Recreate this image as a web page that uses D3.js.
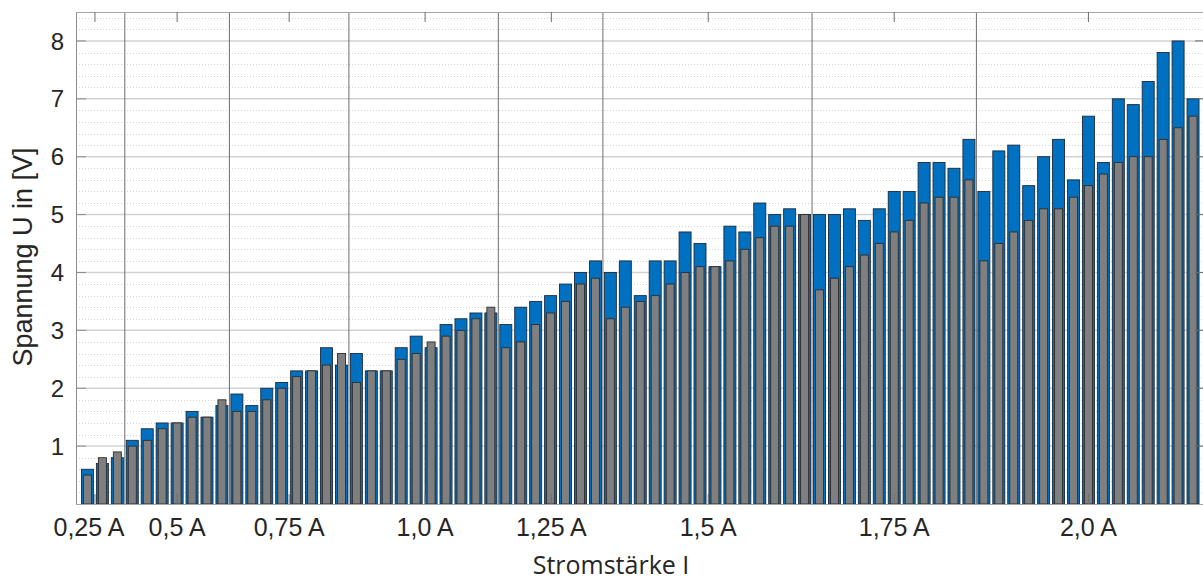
<!DOCTYPE html>
<html>
<head>
<meta charset="utf-8">
<script src="https://cdn.jsdelivr.net/npm/d3@7"></script>
<style>
  html, body { margin: 0; padding: 0; background: #fff; }
  svg { display: block; }
</style>
</head>
<body>
<svg id="chart" width="1203" height="581"></svg>
<script>
// ---- data ----
const blueValues = [0.6,0.7,0.8,1.1,1.3,1.4,1.4,1.6,1.5,1.7,
  1.9,1.7,2.0,2.1,2.3,2.3,2.7,2.4,2.6,2.3,
  2.3,2.7,2.9,2.7,3.1,3.2,3.3,3.3,3.1,3.4,
  3.5,3.6,3.8,4.0,4.2,4.0,4.2,3.6,4.2,4.2,
  4.7,4.5,4.1,4.8,4.7,5.2,5.0,5.1,5.0,5.0,
  5.0,5.1,4.9,5.1,5.4,5.4,5.9,5.9,5.8,6.3,
  5.4,6.1,6.2,5.5,6.0,6.3,5.6,6.7,5.9,7.0,
  6.9,7.3,7.8,8.0,7.0];
const grayValues = [0.5,0.8,0.9,1.0,1.1,1.3,1.4,1.5,1.5,1.8,
  1.6,1.6,1.8,2.0,2.2,2.3,2.4,2.6,2.1,2.3,
  2.3,2.5,2.6,2.8,2.9,3.0,3.2,3.4,2.7,2.8,
  3.1,3.3,3.5,3.8,3.9,3.2,3.4,3.5,3.6,3.8,
  4.0,4.1,4.1,4.2,4.4,4.6,4.8,4.8,5.0,3.7,
  3.9,4.1,4.3,4.5,4.7,4.9,5.2,5.3,5.3,5.6,
  4.2,4.5,4.7,4.9,5.1,5.1,5.3,5.5,5.7,5.9,
  6.0,6.0,6.3,6.5,6.7];
const categories = blueValues.map((d, i) => i);
// group separators: positioned before these bar indices
const separatorIndices = [3, 10, 18, 28, 35, 49, 60];
// x tick labels and their position in bar-slot units
const xTickLabels = ["0,25 A", "0,5 A", "0,75 A", "1,0 A", "1,25 A", "1,5 A", "1,75 A", "2,0 A"];
const xTickSlots = [1.0, 6.5, 14.0, 23.1, 31.55, 42.05, 54.5, 67.5];
const yTickValues = [1, 2, 3, 4, 5, 6, 7, 8];
const yMax = 8.5;

// ---- layout ----
const L = 76, R = 1204, T = 12, B = 504;
const svg = d3.select("#chart");

const x = d3.scaleBand().domain(categories).range([80, 1200.5]).padding(0);
const xs = d3.scaleLinear().domain([0, categories.length]).range([80, 1200.5]);
const y = d3.scaleLinear().domain([0, yMax]).range([B, T]);

// minor dotted grid
const minor = d3.range(0.2, yMax + 0.001, 0.2).filter(v => Math.abs(v - Math.round(v)) > 0.01);
svg.append("g").selectAll("line").data(minor).join("line")
  .attr("x1", L).attr("x2", R)
  .attr("y1", d => Math.round(y(d)) + 0.5).attr("y2", d => Math.round(y(d)) + 0.5)
  .attr("stroke", "#d4d4d4").attr("stroke-width", 1).attr("stroke-dasharray", "1,2");

// major grid
svg.append("g").selectAll("line").data(yTickValues).join("line")
  .attr("x1", L).attr("x2", R)
  .attr("y1", d => y(d)).attr("y2", d => y(d))
  .attr("stroke", "#d2d2d2").attr("stroke-width", 1.5);

// group separator lines
svg.append("g").selectAll("line").data(separatorIndices).join("line")
  .attr("x1", d => x(d)).attr("x2", d => x(d))
  .attr("y1", T).attr("y2", B)
  .attr("stroke", "#6e6e6e").attr("stroke-width", 1);

// bars
const bw = x.bandwidth();
const blueW = 12, grayW = 8;
svg.append("g").selectAll("rect").data(blueValues).join("rect")
  .attr("x", (d, i) => x(i) + (bw - blueW) / 2)
  .attr("y", d => y(d))
  .attr("width", blueW)
  .attr("height", d => B - y(d))
  .attr("fill", "#0070c0")
  .attr("stroke", "#1b2b3d").attr("stroke-width", 0.9);

svg.append("g").selectAll("rect").data(grayValues).join("rect")
  .attr("x", (d, i) => x(i) + (bw - grayW) / 2)
  .attr("y", d => y(d))
  .attr("width", grayW)
  .attr("height", d => B - y(d))
  .attr("fill", "#7f7f7f")
  .attr("stroke", "#2e2e2e").attr("stroke-width", 0.9);

// frame
svg.append("line").attr("x1", L + 0.5).attr("x2", L + 0.5).attr("y1", T).attr("y2", B)
  .attr("stroke", "#8c8c8c").attr("stroke-width", 1);
svg.append("line").attr("x1", L).attr("x2", R).attr("y1", T + 0.5).attr("y2", T + 0.5)
  .attr("stroke", "#a6a6a6").attr("stroke-width", 1);
svg.append("line").attr("x1", L).attr("x2", R).attr("y1", B + 0.5).attr("y2", B + 0.5)
  .attr("stroke", "#a6a6a6").attr("stroke-width", 1);

// y ticks (left and right, inward)
svg.append("g").selectAll("line").data(yTickValues).join("line")
  .attr("x1", L).attr("x2", L + 10)
  .attr("y1", d => y(d)).attr("y2", d => y(d))
  .attr("stroke", "#8c8c8c").attr("stroke-width", 1);
svg.append("g").selectAll("line").data(yTickValues).join("line")
  .attr("x1", R - 9).attr("x2", R)
  .attr("y1", d => y(d)).attr("y2", d => y(d))
  .attr("stroke", "#6e6e6e").attr("stroke-width", 1);

// x ticks (top and bottom, inward)
svg.append("g").selectAll("line").data(xTickSlots).join("line")
  .attr("x1", d => xs(d)).attr("x2", d => xs(d))
  .attr("y1", T).attr("y2", T + 10)
  .attr("stroke", "#6e6e6e").attr("stroke-width", 1);
svg.append("g").selectAll("line").data(xTickSlots).join("line")
  .attr("x1", d => xs(d)).attr("x2", d => xs(d))
  .attr("y1", B - 10).attr("y2", B)
  .attr("stroke", "#6e6e6e").attr("stroke-width", 1);

// y tick labels
svg.append("g").selectAll("text").data(yTickValues).join("text")
  .attr("x", 64).attr("y", d => y(d))
  .attr("dy", "0.36em")
  .attr("text-anchor", "end")
  .attr("font-family", "'Liberation Sans', Arial, sans-serif")
  .attr("font-size", 24)
  .attr("fill", "#262626")
  .text(d => d);

// x tick labels
svg.append("g").selectAll("text").data(xTickLabels).join("text")
  .attr("x", (d, i) => xs(xTickSlots[i]) - (i === 0 ? 6 : 0))
  .attr("y", 536)
  .attr("text-anchor", "middle")
  .attr("font-family", "'Liberation Sans', Arial, sans-serif")
  .attr("font-size", 25)
  .attr("fill", "#262626")
  .text(d => d);

// axis titles
svg.append("text")
  .attr("transform", "translate(32,257) rotate(-90)")
  .attr("text-anchor", "middle")
  .attr("font-family", "'Liberation Sans', Arial, sans-serif")
  .attr("font-size", 27)
  .attr("fill", "#262626")
  .text("Spannung U in [V]");

svg.append("text")
  .attr("x", 611).attr("y", 574)
  .attr("text-anchor", "middle")
  .attr("font-family", "'Open Sans', 'Noto Sans', sans-serif")
  .attr("font-size", 25)
  .attr("fill", "#262626")
  .text("Stromstärke I");
</script>
</body>
</html>
